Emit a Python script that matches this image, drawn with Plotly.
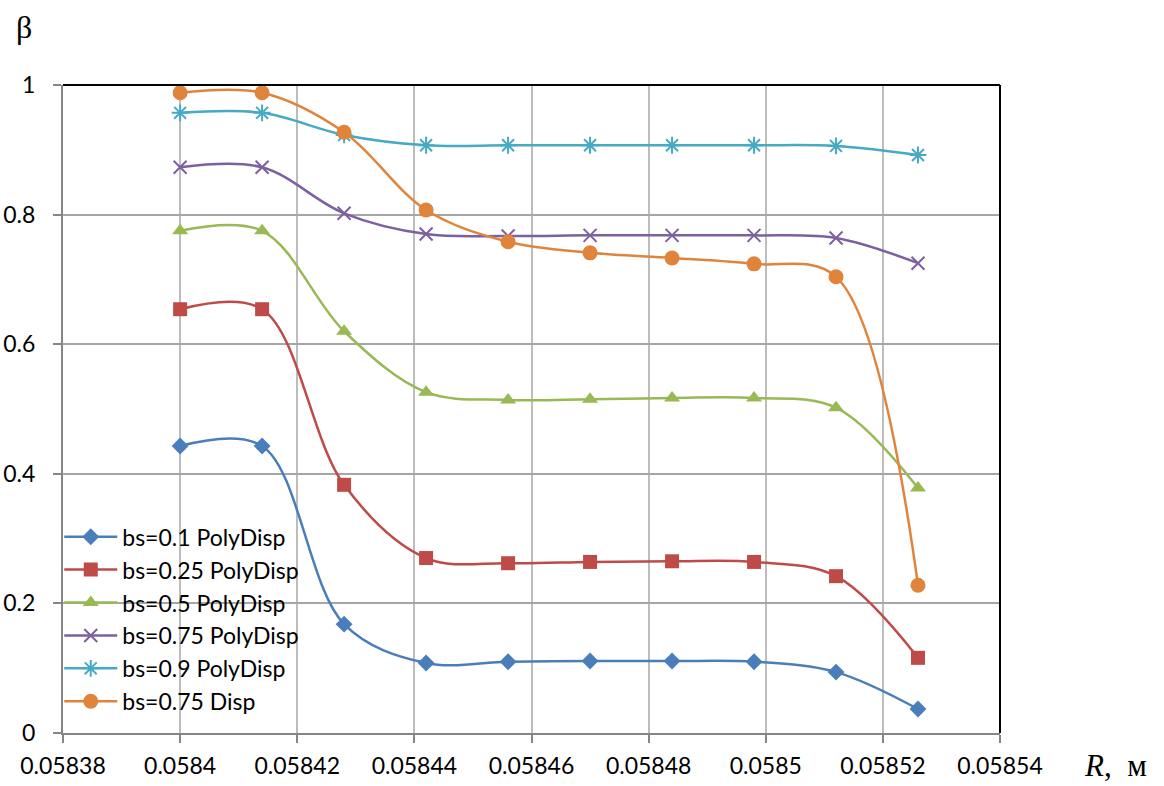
import plotly.graph_objects as go

R = [0.0584, 0.058414, 0.058428, 0.058442, 0.058456, 0.05847, 0.058484, 0.058498, 0.058512, 0.058526]

bs01_poly = [0.443, 0.443, 0.168, 0.108, 0.110, 0.111, 0.111, 0.110, 0.094, 0.037]
bs025_poly = [0.654, 0.654, 0.383, 0.270, 0.262, 0.264, 0.265, 0.264, 0.242, 0.116]
bs05_poly = [0.775, 0.775, 0.620, 0.526, 0.514, 0.515, 0.517, 0.517, 0.502, 0.378]
bs075_poly = [0.873, 0.873, 0.802, 0.770, 0.767, 0.768, 0.768, 0.768, 0.764, 0.725]
bs09_poly = [0.957, 0.957, 0.923, 0.907, 0.907, 0.907, 0.907, 0.907, 0.906, 0.892]
bs075_disp = [0.988, 0.988, 0.927, 0.807, 0.758, 0.741, 0.733, 0.724, 0.704, 0.228]

series_names = ["bs=0.1 PolyDisp", "bs=0.25 PolyDisp", "bs=0.5 PolyDisp",
                "bs=0.75 PolyDisp", "bs=0.9 PolyDisp", "bs=0.75 Disp"]

x_tickvals = [0.05838, 0.0584, 0.05842, 0.05844, 0.05846, 0.05848, 0.0585, 0.05852, 0.05854]
x_ticktext = ["0.05838", "0.0584", "0.05842", "0.05844", "0.05846", "0.05848", "0.0585", "0.05852", "0.05854"]
y_tickvals = [0, 0.2, 0.4, 0.6, 0.8, 1]
y_ticktext = ["0", "0.2", "0.4", "0.6", "0.8", "1"]

colors = ["#4A7EBB", "#BE4B48", "#98B954", "#7D60A0", "#46AAC5", "#E0843C"]
symbols = ["diamond", "square", "triangle-up", "x-thin-open", "asterisk-open", "circle"]
sizes = [13, 14, 14, 13, 14, 15]
data = [bs01_poly, bs025_poly, bs05_poly, bs075_poly, bs09_poly, bs075_disp]

fig = go.Figure()
for name, ys, c, s, sz in zip(series_names, data, colors, symbols, sizes):
    open_sym = s.endswith("open")
    fig.add_trace(go.Scatter(
        x=R, y=ys, name=name, mode="lines+markers",
        line=dict(color=c, width=2.5, shape="spline", smoothing=1.0),
        marker=dict(symbol=s, size=sz, color=c,
                    line=dict(color=c, width=2 if open_sym else 0)),
    ))

fig.update_layout(
    width=1164, height=786,
    margin=dict(l=63, r=164, t=85, b=53),
    plot_bgcolor="white", paper_bgcolor="white",
    font=dict(family="Lato", size=23, color="black"),
    showlegend=True,
    legend=dict(x=-0.004, y=0.336, xanchor="left", yanchor="top",
                bgcolor="rgba(0,0,0,0)", font=dict(size=23, family="Lato"),
                itemwidth=53, tracegroupgap=0),
    xaxis=dict(range=[0.05838, 0.05854], tickvals=x_tickvals, ticktext=x_ticktext,
               automargin=False,
               showgrid=True, gridcolor="#BDBDBD", gridwidth=2,
               showline=True, linecolor="#868686", linewidth=2,
               ticks="outside", ticklen=8, tickcolor="#868686", tickwidth=2,
               ticklabelstandoff=3,
               zeroline=False, tickfont=dict(size=23)),
    yaxis=dict(range=[0, 1], tickvals=y_tickvals, ticktext=y_ticktext,
               automargin=False,
               showgrid=True, gridcolor="#A6A6A6", gridwidth=2,
               showline=True, linecolor="#868686", linewidth=2,
               ticks="outside", ticklen=8, tickcolor="#868686", tickwidth=2,
               ticklabelstandoff=13,
               zeroline=False, tickfont=dict(size=23)),
)

# plot area border top and right
fig.add_shape(type="line", xref="paper", yref="paper", x0=0, x1=1, y0=1, y1=1,
              line=dict(color="black", width=2))
fig.add_shape(type="line", xref="paper", yref="paper", x0=1, x1=1, y0=0, y1=1,
              line=dict(color="black", width=2))

fig.add_annotation(text="β", xref="paper", yref="paper", x=-0.052, y=1.09,
                   xanchor="left", yanchor="middle", showarrow=False,
                   font=dict(family="Liberation Serif", size=32))
fig.add_annotation(text="<i>R</i>,  м", xref="paper", yref="paper", x=1.0875, y=-0.05,
                   xanchor="left", yanchor="middle", showarrow=False,
                   font=dict(family="Liberation Serif", size=31))

fig.write_html("out.html", config={"displayModeBar": False},
               post_script="document.body.style.margin='0';")
